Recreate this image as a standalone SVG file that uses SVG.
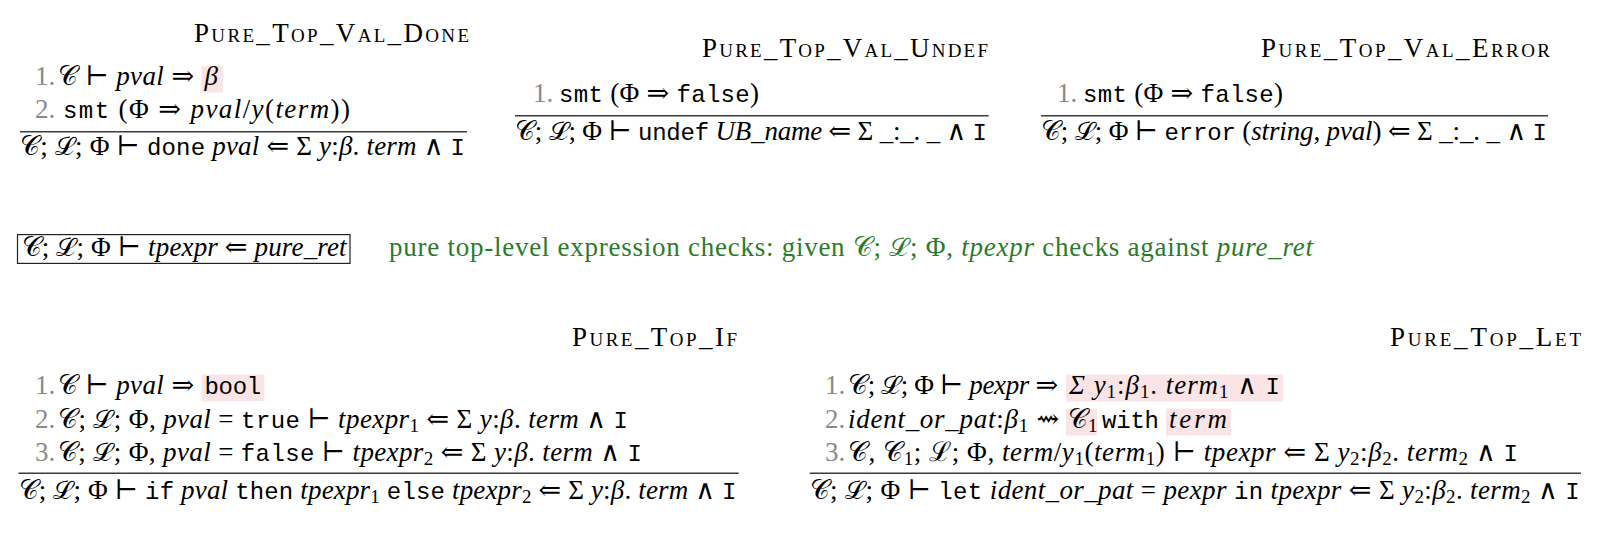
<svg xmlns="http://www.w3.org/2000/svg" width="1613" height="542" viewBox="0 0 1613 542">
<style>
text { font-family: "Liberation Serif","DejaVu Serif",serif; font-size: 27px; fill: #000; }
.i { font-style: italic; }
.tt { font-family: "Liberation Mono","DejaVu Sans Mono",monospace; font-style: normal; font-size: 24px; }
.n { fill: #8a8a8a; }
.sc { font-variant: small-caps; }
.g { fill: #2b7b2b; }
.hl { fill: #fbe4e5; }
.rule { stroke: #3c3c3c; stroke-width: 1.4; }
.box { fill: none; stroke: #222; stroke-width: 1.2; }
.sub { font-size: 19px; }
.ar { font-family: "DejaVu Serif",serif; font-style: normal; }
</style>
<rect width="1613" height="542" fill="#fff"/>

<g id="pure_top_val_done">
  <text class="sc" x="194" y="42" textLength="275">Pure_Top_Val_Done</text>
  <text class="n" x="35" y="85">1.</text>
  <text x="58" y="85" textLength="136">𝒞 ⊢ <tspan class="i">pval</tspan> <tspan class="ar">⇒</tspan></text>
  <rect class="hl" x="201.6" y="66" width="21.4" height="26.6"/>
  <text class="i" x="204.5" y="85">β</text>
  <text class="n" x="35" y="118">2.</text>
  <text x="63" y="118" textLength="287"><tspan class="tt">smt</tspan> (Φ <tspan class="ar">⇒</tspan> <tspan class="i">pval</tspan>/<tspan class="i">y</tspan>(<tspan class="i">term</tspan>))</text>
  <line class="rule" x1="20" y1="131.7" x2="467" y2="131.7"/>
  <text x="20" y="155" textLength="445">𝒞; ℒ; Φ ⊢ <tspan class="tt">done</tspan> <tspan class="i">pval</tspan> <tspan class="ar">⇐</tspan> Σ <tspan class="i">y</tspan>:<tspan class="i">β</tspan>. <tspan class="i">term</tspan> ∧ <tspan class="tt">I</tspan></text>
</g>

<g id="pure_top_val_undef">
  <text class="sc" x="702" y="57" textLength="286">Pure_Top_Val_Undef</text>
  <text class="n" x="533" y="102">1.</text>
  <text x="559" y="102" textLength="200"><tspan class="tt">smt</tspan> (Φ <tspan class="ar">⇒</tspan> <tspan class="tt">false</tspan>)</text>
  <line class="rule" x1="515" y1="115.7" x2="988.7" y2="115.7"/>
  <text x="515" y="140" textLength="472">𝒞; ℒ; Φ ⊢ <tspan class="tt">undef</tspan>  <tspan class="i">UB_name</tspan> <tspan class="ar">⇐</tspan> Σ _:_. _ ∧ <tspan class="tt">I</tspan></text>
</g>

<g id="pure_top_val_error">
  <text class="sc" x="1261" y="57" textLength="289">Pure_Top_Val_Error</text>
  <text class="n" x="1057" y="102">1.</text>
  <text x="1083" y="102" textLength="200"><tspan class="tt">smt</tspan> (Φ <tspan class="ar">⇒</tspan> <tspan class="tt">false</tspan>)</text>
  <line class="rule" x1="1041" y1="115.7" x2="1548" y2="115.7"/>
  <text x="1041" y="140" textLength="506">𝒞; ℒ; Φ ⊢ <tspan class="tt">error</tspan> (<tspan class="i">string</tspan>, <tspan class="i">pval</tspan>) <tspan class="ar">⇐</tspan> Σ _:_. _ ∧ <tspan class="tt">I</tspan></text>
</g>

<g id="judgement">
  <rect class="box" x="17.5" y="234.6" width="332.5" height="28.8"/>
  <text x="21.6" y="255.5" textLength="325">𝒞; ℒ; Φ ⊢ <tspan class="i">tpexpr</tspan> <tspan class="ar">⇐</tspan> <tspan class="i">pure_ret</tspan></text>
  <text class="g" x="389" y="255.5" textLength="924">pure top-level expression checks: given 𝒞; ℒ; Φ, <tspan class="i">tpexpr</tspan> checks against <tspan class="i">pure_ret</tspan></text>
</g>

<g id="pure_top_if">
  <text class="sc" x="572" y="346" textLength="165">Pure_Top_If</text>
  <text class="n" x="35" y="393.6">1.</text>
  <text x="58" y="393.6" textLength="136">𝒞 ⊢ <tspan class="i">pval</tspan> <tspan class="ar">⇒</tspan></text>
  <rect class="hl" x="201.6" y="374.6" width="62.8" height="26.6"/>
  <text class="tt" x="204.5" y="393.6" textLength="56.7">bool</text>
  <text class="n" x="35" y="427.6">2.</text>
  <text x="58" y="427.6" textLength="570">𝒞; ℒ; Φ, <tspan class="i">pval</tspan> = <tspan class="tt">true</tspan> ⊢ <tspan class="i">tpexpr</tspan><tspan class="sub" dy="4">1</tspan><tspan dy="-4"> </tspan><tspan class="ar">⇐</tspan> Σ <tspan class="i">y</tspan>:<tspan class="i">β</tspan>. <tspan class="i">term</tspan> ∧ <tspan class="tt">I</tspan></text>
  <text class="n" x="35" y="460.5">3.</text>
  <text x="58" y="460.5" textLength="584">𝒞; ℒ; Φ, <tspan class="i">pval</tspan> = <tspan class="tt">false</tspan> ⊢ <tspan class="i">tpexpr</tspan><tspan class="sub" dy="4">2</tspan><tspan dy="-4"> </tspan><tspan class="ar">⇐</tspan> Σ <tspan class="i">y</tspan>:<tspan class="i">β</tspan>. <tspan class="i">term</tspan> ∧ <tspan class="tt">I</tspan></text>
  <line class="rule" x1="18.5" y1="473.3" x2="738.7" y2="473.3"/>
  <text x="18.5" y="499" textLength="718">𝒞; ℒ; Φ ⊢ <tspan class="tt">if</tspan> <tspan class="i">pval</tspan> <tspan class="tt">then</tspan> <tspan class="i">tpexpr</tspan><tspan class="sub" dy="4">1</tspan><tspan dy="-4"> </tspan><tspan class="tt">else</tspan> <tspan class="i">tpexpr</tspan><tspan class="sub" dy="4">2</tspan><tspan dy="-4"> </tspan><tspan class="ar">⇐</tspan> Σ <tspan class="i">y</tspan>:<tspan class="i">β</tspan>. <tspan class="i">term</tspan> ∧ <tspan class="tt">I</tspan></text>
</g>

<g id="pure_top_let">
  <text class="sc" x="1390" y="346" textLength="191">Pure_Top_Let</text>
  <text class="n" x="825" y="393.6">1.</text>
  <text x="848" y="393.6" textLength="210">𝒞; ℒ; Φ ⊢ <tspan class="i">pexpr</tspan> <tspan class="ar">⇒</tspan></text>
  <rect class="hl" x="1066" y="374.6" width="217" height="27"/>
  <text x="1069" y="393.6" textLength="211"><tspan class="i">Σ y</tspan><tspan class="sub" dy="4">1</tspan><tspan dy="-4">:</tspan><tspan class="i">β</tspan><tspan class="sub" dy="4">1</tspan><tspan dy="-4">. </tspan><tspan class="i">term</tspan><tspan class="sub" dy="4">1</tspan><tspan dy="-4"> ∧ </tspan><tspan class="tt">I</tspan></text>
  <text class="n" x="825" y="427.6">2.</text>
  <text x="848" y="427.6" textLength="211"><tspan class="i">ident_or_pat</tspan>:<tspan class="i">β</tspan><tspan class="sub" dy="4">1</tspan><tspan dy="-4"> ⇝</tspan></text>
  <rect class="hl" x="1066" y="408.6" width="31" height="27"/>
  <text x="1068" y="427.6">𝒞<tspan class="sub" dy="4">1</tspan></text>
  <text class="tt" x="1102" y="427.6" textLength="57">with</text>
  <rect class="hl" x="1166" y="408.6" width="65" height="27"/>
  <text class="i" x="1169" y="427.6" textLength="58">term</text>
  <text class="n" x="825" y="460.5">3.</text>
  <text x="848" y="460.5" textLength="670">𝒞, 𝒞<tspan class="sub" dy="4">1</tspan><tspan dy="-4">; ℒ; Φ, </tspan><tspan class="i">term</tspan>/<tspan class="i">y</tspan><tspan class="sub" dy="4">1</tspan><tspan dy="-4">(</tspan><tspan class="i">term</tspan><tspan class="sub" dy="4">1</tspan><tspan dy="-4">) ⊢ </tspan><tspan class="i">tpexpr</tspan> <tspan class="ar">⇐</tspan> Σ <tspan class="i">y</tspan><tspan class="sub" dy="4">2</tspan><tspan dy="-4">:</tspan><tspan class="i">β</tspan><tspan class="sub" dy="4">2</tspan><tspan dy="-4">. </tspan><tspan class="i">term</tspan><tspan class="sub" dy="4">2</tspan><tspan dy="-4"> ∧ </tspan><tspan class="tt">I</tspan></text>
  <line class="rule" x1="809.7" y1="473.3" x2="1581" y2="473.3"/>
  <text x="809.7" y="499" textLength="770">𝒞; ℒ; Φ ⊢ <tspan class="tt">let</tspan> <tspan class="i">ident_or_pat</tspan> = <tspan class="i">pexpr</tspan> <tspan class="tt">in</tspan> <tspan class="i">tpexpr</tspan> <tspan class="ar">⇐</tspan> Σ <tspan class="i">y</tspan><tspan class="sub" dy="4">2</tspan><tspan dy="-4">:</tspan><tspan class="i">β</tspan><tspan class="sub" dy="4">2</tspan><tspan dy="-4">. </tspan><tspan class="i">term</tspan><tspan class="sub" dy="4">2</tspan><tspan dy="-4"> ∧ </tspan><tspan class="tt">I</tspan></text>
</g>

<g id="connectors"/>
</svg>
